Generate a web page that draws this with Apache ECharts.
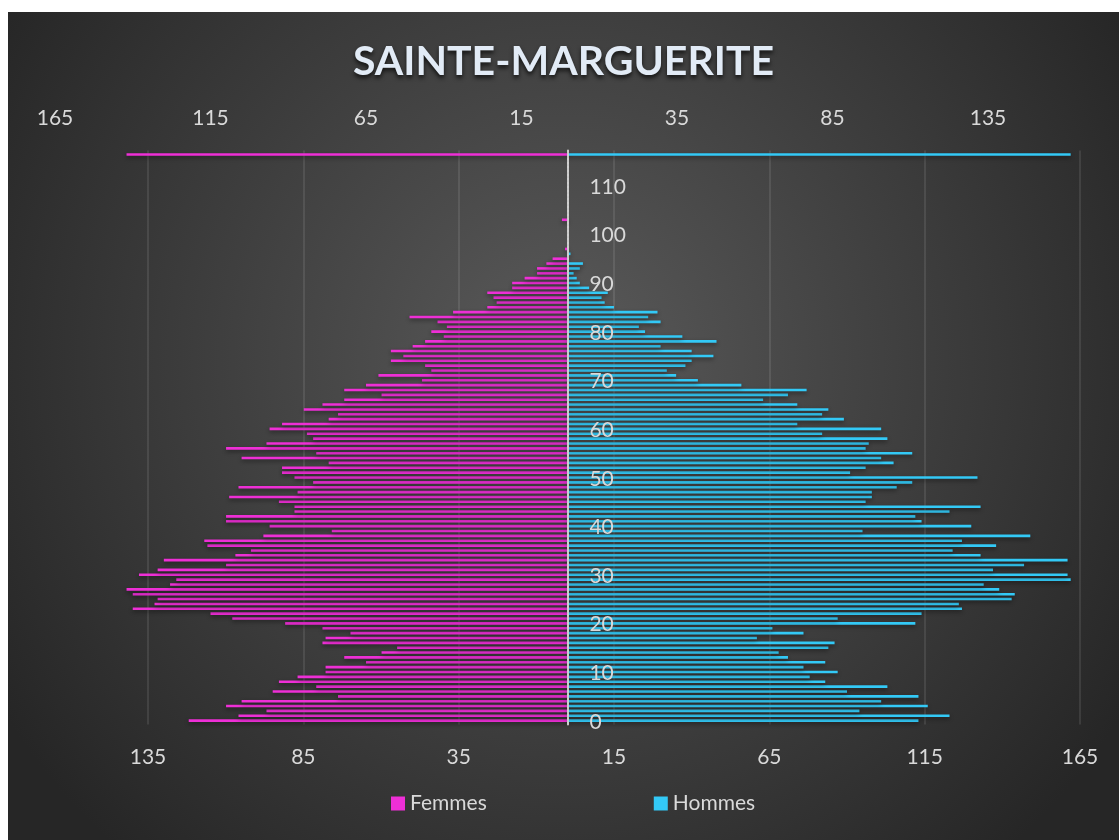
<!DOCTYPE html>
<html>
<head>
<meta charset="utf-8">
<script src="https://cdn.jsdelivr.net/npm/echarts@6.0.0/dist/echarts.min.js"></script>
<style>
body { margin: 0; background: #ffffff; }
#main { position: absolute; left: 8px; top: 12px; width: 1111px; height: 828px; }
</style>
</head>
<body>
<div id="main"></div>
<script>
// ages 0..117, only 0-110 carry values, the top row holds the two cap lines
let ages = []
for (let a = 0; a <= 117; a++) ages.push(String(a))

// Femmes, age 0 -> 110
let femmes = [
    122, 106, 97, 110, 105, 74, 95, 81, 93, 87,
    78, 78, 65, 72, 60, 55, 79, 78, 70, 79,
    91, 108, 115, 140, 133, 132, 140, 142, 128, 126,
    138, 132, 110, 130, 107, 102, 116, 117, 98, 76,
    96, 110, 110, 88, 88, 93, 109, 87, 106, 82,
    88, 92, 92, 77, 105, 81, 110, 97, 82, 84,
    96, 92, 77, 74, 85, 79, 72, 60, 72, 65,
    47, 61, 44, 46, 57, 53, 57, 50, 46, 40,
    44, 39, 42, 51, 37, 26, 23, 24, 26, 18,
    18, 14, 10, 10, 7, 5, 0, 1, 0, 0,
    0, 0, 0, 2, 0, 0, 0, 0, 0, 0, 0
]

// Hommes, age 0 -> 110
let hommes = [
    113, 123, 94, 116, 101, 113, 90, 103, 83, 78,
    87, 76, 83, 71, 68, 84, 86, 61, 76, 66,
    112, 87, 114, 127, 126, 143, 144, 139, 134, 162,
    161, 137, 147, 161, 133, 124, 138, 127, 149, 95,
    130, 114, 112, 123, 133, 96, 98, 98, 106, 111,
    132, 91, 96, 105, 101, 111, 96, 97, 103, 82,
    101, 74, 89, 82, 84, 74, 63, 71, 77, 56,
    42, 35, 32, 38, 40, 47, 40, 30, 48, 37,
    25, 23, 30, 26, 29, 15, 12, 11, 13, 7,
    4, 3, 2, 4, 5, 0, 1, 0, 0, 0,
    0, 0, 0, 0, 0, 0, 0, 0, 0, 0, 0
]

// the long lines drawn above the pyramid
let capF = 142
let capH = 162
let capRow = '117'

let pink = '#ee2fd6'
let blue = '#33c9f6'
let txt = '#d9d9d9'
let font = 'Lato'

let myChart = echarts.init(document.getElementById('main'))

let barShadow = { shadowBlur: 4, shadowColor: 'rgba(0,0,0,0.45)', shadowOffsetY: 2 }

myChart.setOption({
    animation: false,
    backgroundColor: {
        type: 'radial', x: 0.5, y: 0.42, r: 0.8,
        colorStops: [{ offset: 0, color: '#5a5a5a' }, { offset: 1, color: '#262626' }]
    },
    title: {
        text: 'SAINTE-MARGUERITE',
        left: 'center',
        top: 24,
        textStyle: {
            fontFamily: font,
            fontWeight: 'bold',
            fontSize: 41,
            color: '#e2ebf6',
            textShadowColor: 'rgba(0,0,0,0.7)',
            textShadowBlur: 4,
            textShadowOffsetY: 3
        }
    },
    legend: {
        data: ['Femmes', 'Hommes'],
        left: 383,
        top: 781,
        padding: 0,
        itemGap: 167,
        itemWidth: 14,
        itemHeight: 14,
        icon: 'rect',
        textStyle: { color: txt, fontFamily: font, fontSize: 21 }
    },
    grid: [
        { left: 140, right: 39, top: 138.6, bottom: 115.6 },
        { left: 47, right: 131, top: 138.6, bottom: 115.6 }
    ],
    xAxis: [
        {
            gridIndex: 0,
            type: 'value',
            min: -135, max: 165, interval: 50,
            axisLine: { show: false },
            axisTick: { show: false },
            splitLine: { lineStyle: { color: 'rgba(255,255,255,0.13)', width: 1.5 } },
            axisLabel: {
                margin: 22, color: txt, fontFamily: font, fontSize: 21,
                formatter: v => Math.abs(v)
            }
        },
        {
            gridIndex: 1,
            type: 'value',
            position: 'top',
            inverse: true,
            min: -135, max: 165, interval: 50,
            axisLine: { show: false },
            axisTick: { show: false },
            splitLine: { show: false },
            axisLabel: {
                margin: 22, color: txt, fontFamily: font, fontSize: 21,
                formatter: v => Math.abs(v)
            }
        }
    ],
    yAxis: [
        {
            gridIndex: 0,
            type: 'category',
            data: ages,
            offset: -419.4,
            axisLine: { onZero: false, lineStyle: { color: '#d0d0d0', width: 2, type: [3, 1] } },
            axisTick: { show: false },
            splitLine: { show: false },
            z: 5,
            axisLabel: {
                inside: true,
                margin: 22,
                color: txt, fontFamily: font, fontSize: 21,
                interval: (i) => i % 10 === 0 && i <= 110
            }
        },
        {
            gridIndex: 1,
            type: 'category',
            data: ages,
            show: false
        }
    ],
    series: [
        {
            name: 'Femmes',
            type: 'bar',
            xAxisIndex: 1, yAxisIndex: 1,
            barWidth: 2.6,
            itemStyle: Object.assign({ color: pink }, barShadow),
            data: femmes
        },
        {
            name: 'Hommes',
            type: 'bar',
            xAxisIndex: 0, yAxisIndex: 0,
            barWidth: 2.6,
            itemStyle: Object.assign({ color: blue }, barShadow),
            data: hommes
        },
        {
            name: 'capF',
            type: 'bar',
            xAxisIndex: 1, yAxisIndex: 1,
            barWidth: 2.4,
            itemStyle: Object.assign({ color: pink }, barShadow),
            data: [[capF, capRow]]
        },
        {
            name: 'capH',
            type: 'bar',
            xAxisIndex: 0, yAxisIndex: 0,
            barWidth: 2.4,
            itemStyle: Object.assign({ color: blue }, barShadow),
            data: [[capH, capRow]]
        }
    ]
});
</script>
</body>
</html>
